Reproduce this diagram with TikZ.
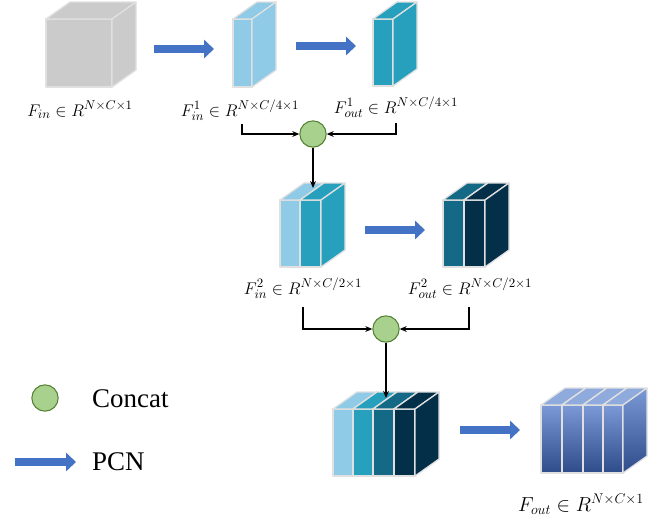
\documentclass[tikz,border=0pt]{standalone}
\usepackage{fontspec}
\setmainfont{Liberation Serif}
\usetikzlibrary{arrows.meta}

\definecolor{featgray}{HTML}{CBCBCB}
\definecolor{featlb}{HTML}{8FCAE6}
\definecolor{featteal}{HTML}{27A0BD}
\definecolor{featdteal}{HTML}{146A86}
\definecolor{featnavy}{HTML}{032F48}
\definecolor{outface}{HTML}{7A99D6}
\definecolor{outtop}{HTML}{8FAADC}
\definecolor{outmid}{HTML}{4472C4}
\definecolor{outbot}{HTML}{2E4B8A}
\definecolor{pcnblue}{HTML}{4472C4}
\definecolor{catgreen}{HTML}{A9D18E}
\definecolor{catline}{HTML}{548235}

% one slice of a feature block: x, y (front top left), width, height, front/side style, top style
\newcommand{\slab}[6]{%
  \path[edge,#5] (#1,#2) rectangle ++(#3,#4);
  \path[edge,#6] (#1,#2) -- ++(24,-17) -- ++(#3,0) -- ++(-24,17) -- cycle;
  \path[edge,#5] (#1+#3,#2) -- ++(24,-17) -- ++(0,#4) -- ++(-24,17) -- cycle;
}

\tikzset{
  edge/.style={draw=white!88!black, line width=1.1pt, line join=round},
  outfill/.style={top color=outface, middle color=outmid, bottom color=outbot},
  pcn/.style={draw=pcnblue, line width=7.6pt, -{Triangle[length=8.5pt,width=15.5pt]}},
  concat/.style={circle, draw=catline, fill=catgreen, line width=0.9pt, minimum size=0.79cm, inner sep=0pt},
  link/.style={draw=black, line width=0.9pt, -{Stealth[length=6pt,width=5pt]}},
  lab/.style={anchor=base, inner sep=0pt, font=\fontsize{15}{17}\selectfont},
  legend/.style={anchor=west, inner sep=0pt, font=\fontsize{23}{27}\selectfont}
}

\begin{document}
\begin{tikzpicture}[x=0.03cm, y=-0.03cm]
    \useasboundingbox (0,0) rectangle (665,519);

    % input and first split
    \slab{46}{19}{66}{68}{fill=featgray}{fill=featgray}
    \slab{233}{19}{19}{68}{fill=featlb}{fill=featlb}
    \slab{373}{19}{20}{67}{fill=featteal}{fill=featteal}

    % second stage
    \slab{280}{200}{20}{67}{fill=featlb}{fill=featlb}
    \slab{300}{200}{21}{67}{fill=featteal}{fill=featteal}
    \slab{443}{200}{21}{67}{fill=featdteal}{fill=featdteal}
    \slab{464}{200}{21}{67}{fill=featnavy}{fill=featnavy}

    % concatenated block
    \slab{333}{409}{20}{67}{fill=featlb}{fill=featlb}
    \slab{353}{409}{20}{67}{fill=featteal}{fill=featteal}
    \slab{373}{409}{21}{67}{fill=featdteal}{fill=featdteal}
    \slab{394}{409}{21}{67}{fill=featnavy}{fill=featnavy}

    % output block
    \slab{541}{405}{21}{68}{outfill}{fill=outtop}
    \slab{562}{405}{21}{68}{outfill}{fill=outtop}
    \slab{583}{405}{20}{68}{outfill}{fill=outtop}
    \slab{603}{405}{20}{68}{outfill}{fill=outtop}

    % labels
    \node[lab] (lfin)   at (80,116)  {$F_{in}\in R^{N\times C\times 1}$};
    \node[lab] (lf1in)  at (240,116) {$F^{1}_{in}\in R^{N\times C/4\times 1}$};
    \node[lab] (lf1out) at (396,113) {$F^{1}_{out}\in R^{N\times C/4\times 1}$};
    \node[lab] (lf2in)  at (303,294) {$F^{2}_{in}\in R^{N\times C/2\times 1}$};
    \node[lab] (lf2out) at (470,294) {$F^{2}_{out}\in R^{N\times C/2\times 1}$};
    \node[lab, font=\fontsize{16.5}{19}\selectfont] (lfout) at (581,511) {$F_{out}\in R^{N\times C\times 1}$};

    % PCN steps
    \coordinate (p1a) at (154,49);  \coordinate (p1b) at (214,49);
    \coordinate (p2a) at (296,46);  \coordinate (p2b) at (356,46);
    \coordinate (p3a) at (365,230); \coordinate (p3b) at (425,230);
    \coordinate (p4a) at (460,430); \coordinate (p4b) at (520,430);
    \draw[pcn] (p1a) -- (p1b);
    \draw[pcn] (p2a) -- (p2b);
    \draw[pcn] (p3a) -- (p3b);
    \draw[pcn] (p4a) -- (p4b);

    % concat joins
    \node[concat] (c1) at (313,134) {};
    \node[concat] (c2) at (386,329) {};
    \coordinate (j1l) at (242,124);
    \coordinate (j1r) at (396,123);
    \coordinate (t1) at (313,188);
    \coordinate (j2l) at (303,307);
    \coordinate (j2r) at (469,307);
    \coordinate (t2) at (386,398);
    \draw[link] (j1l) |- (c1);
    \draw[link] (j1r) |- (c1);
    \draw[link] (c1) -- (t1);
    \draw[link] (j2l) |- (c2);
    \draw[link] (j2r) |- (c2);
    \draw[link] (c2) -- (t2);

    % legend
    \node[concat] (lc) at (45,398) {};
    \node[legend] (lcat) at (92,399) {Concat};
    \coordinate (la) at (15,462);
    \coordinate (lb) at (76,462);
    \draw[pcn] (la) -- (lb);
    \node[legend] (lpcn) at (92,462) {PCN};
\end{tikzpicture}
\end{document}
